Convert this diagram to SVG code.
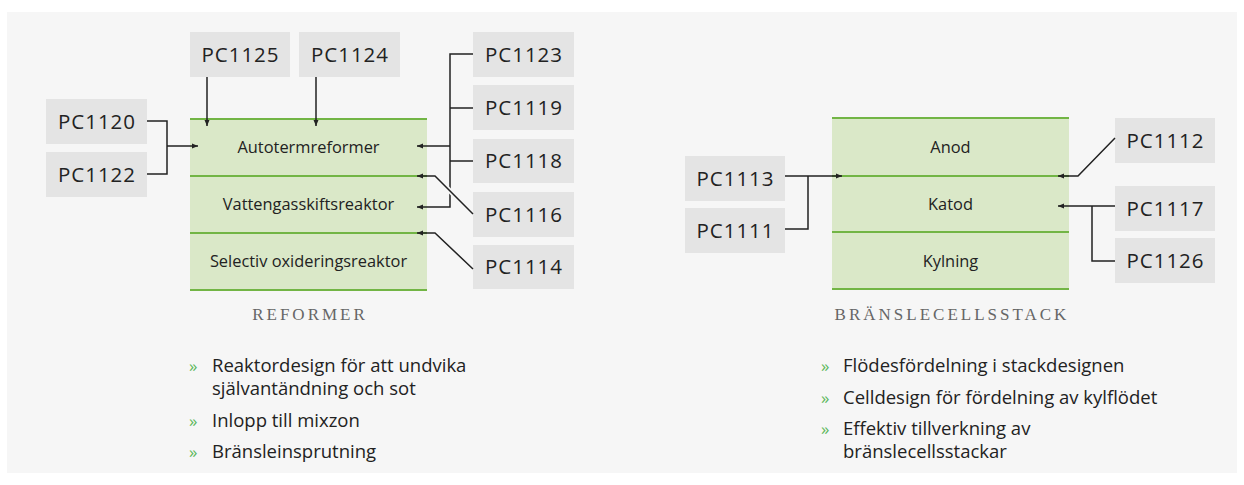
<svg xmlns="http://www.w3.org/2000/svg" width="1244" height="485" viewBox="0 0 1244 485">
<style>
.pc rect{fill:#e4e4e4}
.pc text{font-family:"Open Sans","DejaVu Sans",sans-serif;font-size:20.5px;letter-spacing:1px;fill:#222;text-anchor:middle}
.layer{fill:#dae8c8}
.sep{stroke:#72b545;stroke-width:2}
.lt{font-family:"Open Sans","DejaVu Sans",sans-serif;font-size:16.4px;fill:#222;text-anchor:middle}
.cap{font-family:"Liberation Serif","DejaVu Serif",serif;font-size:17px;fill:#666;letter-spacing:3px;text-anchor:middle}
.con path{fill:none;stroke:#222;stroke-width:1.5}
.con path.gap{stroke:#f6f6f6;stroke-width:5}
.bl{font-family:"Open Sans","DejaVu Sans",sans-serif;font-size:18.5px;fill:#222}
.bu{fill:#5cb85c;font-size:17px}
</style>
<defs>
<marker id="ah" markerUnits="userSpaceOnUse" markerWidth="8" markerHeight="8" viewBox="0 0 8 8" refX="7" refY="4" orient="auto">
<path d="M1,1.5 L7,4 L1,6.5 Z" fill="#222"/>
</marker>
</defs>
<rect x="7" y="12" width="1230" height="461" fill="#f6f6f6"/>

<g id="reformer">
<rect class="layer" x="190" y="119" width="237" height="171"/>
<line class="sep" x1="190" y1="119" x2="427" y2="119"/>
<line class="sep" x1="190" y1="176" x2="427" y2="176"/>
<line class="sep" x1="190" y1="233" x2="427" y2="233"/>
<line class="sep" x1="190" y1="290" x2="427" y2="290"/>
<text class="lt" x="308.5" y="153.4">Autotermreformer</text>
<text class="lt" x="308.5" y="210.4">Vattengasskiftsreaktor</text>
<text class="lt" x="308.5" y="267.4">Selectiv oxideringsreaktor</text>
<text class="cap" x="310" y="320">REFORMER</text>
</g>

<g id="stack">
<rect class="layer" x="832" y="118" width="237" height="171"/>
<line class="sep" x1="832" y1="118" x2="1069" y2="118"/>
<line class="sep" x1="832" y1="176" x2="1069" y2="176"/>
<line class="sep" x1="832" y1="232" x2="1069" y2="232"/>
<line class="sep" x1="832" y1="289" x2="1069" y2="289"/>
<text class="lt" x="950.5" y="153">Anod</text>
<text class="lt" x="950.5" y="210">Katod</text>
<text class="lt" x="950.5" y="266.5">Kylning</text>
<text class="cap" x="952" y="320">BRÄNSLECELLSSTACK</text>
</g>

<g id="pc1125" class="pc"><rect x="190" y="32" width="100" height="45"/><text x="240.5" y="61.5">PC1125</text></g>
<g id="pc1124" class="pc"><rect x="299" y="32" width="101" height="45"/><text x="350" y="61.5">PC1124</text></g>
<g id="pc1120" class="pc"><rect x="46" y="99" width="101" height="45"/><text x="97" y="128.5">PC1120</text></g>
<g id="pc1122" class="pc"><rect x="46" y="152" width="101" height="45"/><text x="97" y="181.5">PC1122</text></g>
<g id="pc1123" class="pc"><rect x="473" y="32" width="101" height="45"/><text x="524" y="61.5">PC1123</text></g>
<g id="pc1119" class="pc"><rect x="473" y="85" width="101" height="45"/><text x="524" y="114.5">PC1119</text></g>
<g id="pc1118" class="pc"><rect x="473" y="139" width="101" height="44"/><text x="524" y="168">PC1118</text></g>
<g id="pc1116" class="pc"><rect x="473" y="192" width="101" height="45"/><text x="524" y="221.5">PC1116</text></g>
<g id="pc1114" class="pc"><rect x="473" y="245" width="101" height="44"/><text x="524" y="274">PC1114</text></g>
<g id="pc1113" class="pc"><rect x="685" y="156" width="100" height="45"/><text x="735.5" y="185.5">PC1113</text></g>
<g id="pc1111" class="pc"><rect x="685" y="208" width="100" height="45"/><text x="735.5" y="237.5">PC1111</text></g>
<g id="pc1112" class="pc"><rect x="1115" y="118" width="100" height="45"/><text x="1165.5" y="147.5">PC1112</text></g>
<g id="pc1117" class="pc"><rect x="1115" y="186" width="100" height="45"/><text x="1165.5" y="215.5">PC1117</text></g>
<g id="pc1126" class="pc"><rect x="1115" y="238" width="100" height="45"/><text x="1165.5" y="267.5">PC1126</text></g>

<g id="connectors" class="con">
<path d="M147,121 H167 V174 H147"/>
<path d="M167,146 H198" marker-end="url(#ah)"/>
<path d="M207,77 V126" marker-end="url(#ah)"/>
<path d="M316,77 V126" marker-end="url(#ah)"/>
<path d="M473,54 H450 V207 H417" marker-end="url(#ah)"/>
<path d="M473,108 H450"/>
<path d="M473,161 H450"/>
<path d="M450,146 H417" marker-end="url(#ah)"/>
<path class="gap" d="M463,204 L442,183"/>
<path d="M473,214 L435,176 H417" marker-end="url(#ah)"/>
<path d="M473,269 L435,233 H417" marker-end="url(#ah)"/>
<path d="M785,176 H842" marker-end="url(#ah)"/>
<path d="M785,229 H808 V176"/>
<path d="M1115,138 L1078,176 H1058" marker-end="url(#ah)"/>
<path d="M1115,206 H1058" marker-end="url(#ah)"/>
<path d="M1115,261 H1092 V206"/>
</g>

<g id="bullets-left">
<text class="bl bu" x="189" y="372">»</text>
<text class="bl" x="212" y="372">Reaktordesign för att undvika</text>
<text class="bl" x="212" y="395">självantändning och sot</text>
<text class="bl bu" x="189" y="427">»</text>
<text class="bl" x="212" y="427">Inlopp till mixzon</text>
<text class="bl bu" x="189" y="458">»</text>
<text class="bl" x="212" y="458">Bränsleinsprutning</text>
</g>
<g id="bullets-right">
<text class="bl bu" x="821" y="372">»</text>
<text class="bl" x="843" y="372">Flödesfördelning i stackdesignen</text>
<text class="bl bu" x="821" y="403.5">»</text>
<text class="bl" x="843" y="403.5">Celldesign för fördelning av kylflödet</text>
<text class="bl bu" x="821" y="435">»</text>
<text class="bl" x="843" y="435">Effektiv tillverkning av</text>
<text class="bl" x="843" y="458">bränslecellsstackar</text>
</g>
</svg>
